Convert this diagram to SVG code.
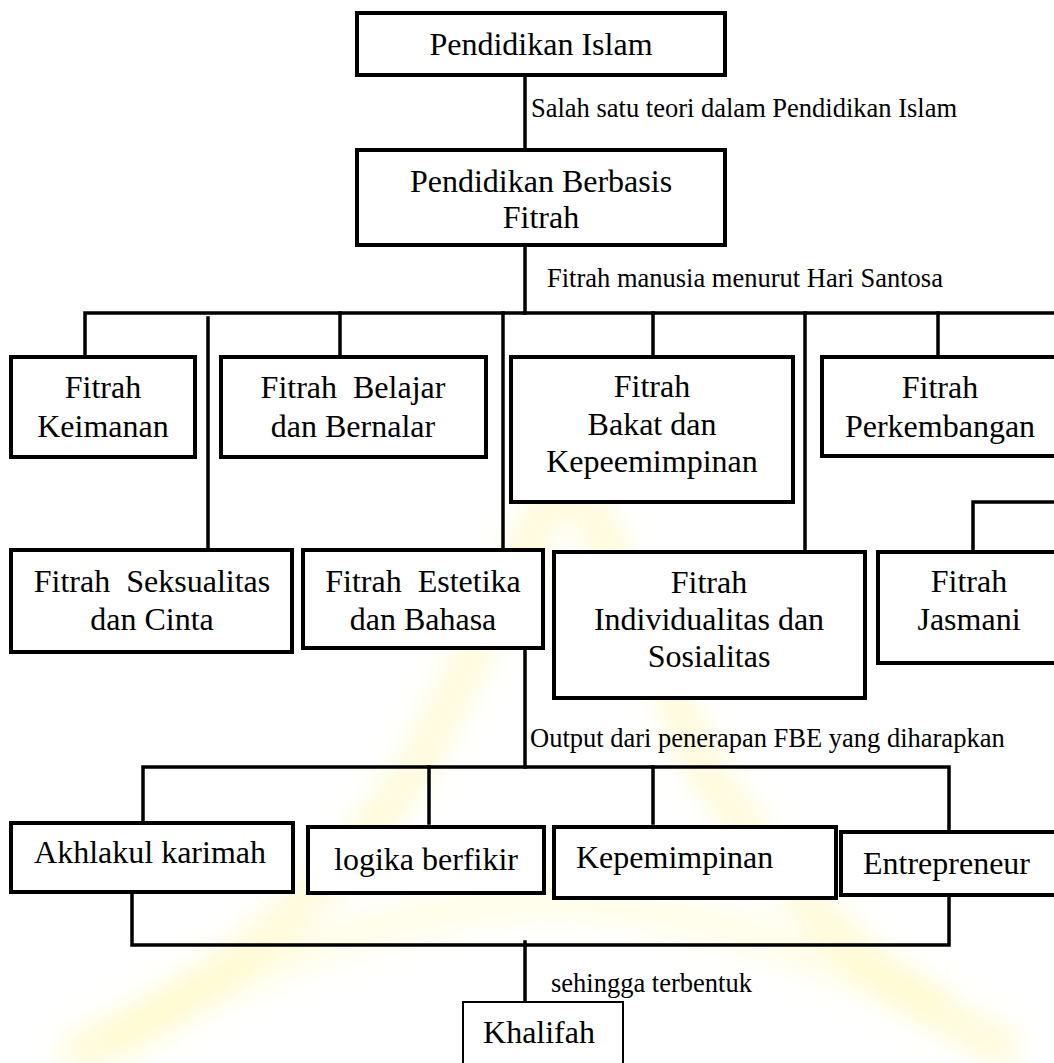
<svg xmlns="http://www.w3.org/2000/svg" width="1054" height="1063" viewBox="0 0 1054 1063">
<defs>
<filter id="soft" x="-20%" y="-20%" width="140%" height="140%"><feGaussianBlur stdDeviation="12"/></filter>
</defs>
<style>
.box{fill:#fff;stroke:#000;stroke-width:4}
.thin{fill:#fff;stroke:#000;stroke-width:2}
.t{font-family:'Liberation Serif','Times New Roman',serif;font-size:32px;fill:#000;text-anchor:middle}
.ts{font-family:'Liberation Serif','Times New Roman',serif;font-size:32px;fill:#000}
.lbl{font-family:'Liberation Serif','Times New Roman',serif;font-size:26.5px;fill:#000}
.con{fill:none;stroke:#000;stroke-width:3.5;stroke-linecap:square}
.wm{fill:none;stroke:#fff6a8;stroke-width:40;stroke-linecap:round;stroke-linejoin:round;opacity:0.4}
</style>
<rect width="1054" height="1063" fill="#fff"/>
<g id="watermark" filter="url(#soft)">
<path class="wm" d="M560 480 C520 560 470 660 420 760 C330 900 200 1000 80 1050"/>
<path class="wm" d="M575 480 C620 570 660 660 700 760 C790 900 880 990 1000 1045"/>
<path class="wm" d="M120 1040 C300 930 470 900 560 900 C700 905 820 960 930 1000" style="opacity:0.25"/>
</g>
<g id="connectors">
<path class="con" d="M525 75 V150"/>
<path class="con" d="M525 245 V313"/>
<path class="con" d="M85 357 V313 H1056"/>
<path class="con" d="M340 313 V357"/>
<path class="con" d="M653 313 V357"/>
<path class="con" d="M938 313 V357"/>
<path class="con" d="M208 318 V550"/>
<path class="con" d="M503 313 V550"/>
<path class="con" d="M805 313 V552"/>
<path class="con" d="M973 552 V502 H1056"/>
<path class="con" d="M525 648 V767"/>
<path class="con" d="M143 823 V767 H949 V832"/>
<path class="con" d="M429 767 V823"/>
<path class="con" d="M653 767 V823"/>
<path class="con" d="M132 892 V945 H949 V895"/>
<path class="con" d="M525 942 V1002"/>
</g>
<g id="labels">
<text class="lbl" x="531" y="117">Salah satu teori dalam Pendidikan Islam</text>
<text class="lbl" x="547" y="287">Fitrah manusia menurut Hari Santosa</text>
<text class="lbl" x="530" y="747">Output dari penerapan FBE yang diharapkan</text>
<text class="lbl" x="551" y="992">sehingga terbentuk</text>
</g>
<g id="pendidikan-islam">
<rect class="box" x="357" y="13" width="368" height="62"/>
<text class="t" x="541" y="55">Pendidikan Islam</text>
</g>
<g id="pendidikan-berbasis-fitrah">
<rect class="box" x="357" y="150" width="368" height="95"/>
<text class="t" x="541" y="192">Pendidikan Berbasis</text>
<text class="t" x="541" y="228">Fitrah</text>
</g>
<g id="fitrah-keimanan">
<rect class="box" x="11" y="357" width="184" height="100"/>
<text class="t" x="103" y="398">Fitrah</text>
<text class="t" x="103" y="437">Keimanan</text>
</g>
<g id="fitrah-belajar">
<rect class="box" x="221" y="357" width="265" height="100"/>
<text class="t" x="353" y="398" xml:space="preserve">Fitrah  Belajar</text>
<text class="t" x="353" y="437">dan Bernalar</text>
</g>
<g id="fitrah-bakat">
<rect class="box" x="511" y="357" width="282" height="145"/>
<text class="t" x="652" y="397">Fitrah</text>
<text class="t" x="652" y="435">Bakat dan</text>
<text class="t" x="652" y="472">Kepeemimpinan</text>
</g>
<g id="fitrah-perkembangan">
<rect class="box" x="822" y="357" width="236" height="99"/>
<text class="t" x="940" y="398">Fitrah</text>
<text class="t" x="940" y="437">Perkembangan</text>
</g>
<g id="fitrah-seksualitas">
<rect class="box" x="11" y="550" width="281" height="102"/>
<text class="t" x="152" y="592" xml:space="preserve">Fitrah  Seksualitas</text>
<text class="t" x="152" y="630">dan Cinta</text>
</g>
<g id="fitrah-estetika">
<rect class="box" x="303" y="550" width="240" height="98"/>
<text class="t" x="423" y="592" xml:space="preserve">Fitrah  Estetika</text>
<text class="t" x="423" y="630">dan Bahasa</text>
</g>
<g id="fitrah-individualitas">
<rect class="box" x="554" y="552" width="311" height="146"/>
<text class="t" x="709" y="593">Fitrah</text>
<text class="t" x="709" y="630">Individualitas dan</text>
<text class="t" x="709" y="667">Sosialitas</text>
</g>
<g id="fitrah-jasmani">
<rect class="box" x="878" y="552" width="182" height="111"/>
<text class="t" x="969" y="592">Fitrah</text>
<text class="t" x="969" y="630">Jasmani</text>
</g>
<g id="akhlakul-karimah">
<rect class="box" x="11" y="823" width="282" height="69"/>
<text class="t" x="150" y="863">Akhlakul karimah</text>
</g>
<g id="logika-berfikir">
<rect class="box" x="308" y="827" width="236" height="66"/>
<text class="t" x="426" y="870">logika berfikir</text>
</g>
<g id="kepemimpinan">
<rect class="box" x="554" y="827" width="282" height="71"/>
<text class="ts" x="576" y="868">Kepemimpinan</text>
</g>
<g id="entrepreneur">
<rect class="box" x="841" y="832" width="217" height="63"/>
<text class="ts" x="863" y="874">Entrepreneur</text>
</g>
<g id="khalifah">
<rect class="thin" x="463" y="1002" width="160" height="70"/>
<text class="t" x="539" y="1043">Khalifah</text>
</g>
</svg>
